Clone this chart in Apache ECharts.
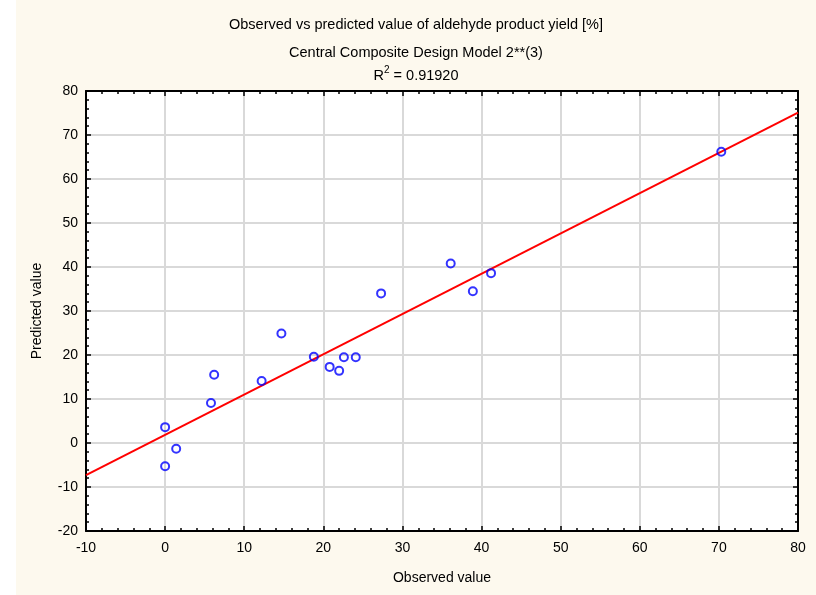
<!DOCTYPE html>
<html>
<head>
<meta charset="utf-8">
<script src="https://cdn.jsdelivr.net/npm/echarts@6/dist/echarts.min.js"></script>
<style>
  html, body { margin: 0; padding: 0; background: #ffffff; }
  #chart { position: absolute; left: 16px; top: 0; width: 800px; height: 595px; }
</style>
</head>
<body>
<div id="chart"></div>
<script>
// Observed vs predicted aldehyde product yield [%]
const observed  = [0, 0, 1.4, 5.8, 6.2, 12.2, 14.7, 18.8, 20.8, 22.0, 22.6, 24.1, 27.3, 36.1, 38.9, 41.2, 70.3];
const predicted = [3.6, -5.3, -1.3, 9.1, 15.5, 14.1, 24.9, 19.6, 17.3, 16.4, 19.5, 19.5, 34.0, 40.8, 34.5, 38.6, 66.2];

// Fitted line endpoints across the observed range
const fitX = [-10, 80];
const fitY = [-7.3, 75.1];

const xTicks = { min: -10, max: 80, interval: 10 };
const yTicks = { min: -20, max: 80, interval: 10 };

const titleLines = [
  'Observed vs predicted value of aldehyde product yield [%]',
  'Central Composite Design Model 2**(3)',
  '{r|R}{s|2}{r| = 0.91920}'
];

const FONT = "'Liberation Sans', Arial, sans-serif";
const TITLE_SIZE = 14.5;

const chart = echarts.init(document.getElementById('chart'), null, { renderer: 'canvas' });

function frameAxis(extra) {
  return Object.assign({
    type: 'value',
    axisLine: { show: true, onZero: false, lineStyle: { color: '#000', width: 2 } },
    axisTick: { show: true, inside: true, length: 5, lineStyle: { color: '#000', width: 1.5 } },
    minorTick: { show: true, splitNumber: 5, length: 3, lineStyle: { color: '#000', width: 1.5 } },
    splitLine: { show: false },
    minorSplitLine: { show: false },
    axisLabel: { show: false }
  }, extra);
}

const labelStyle = { color: '#000', fontSize: 14, fontFamily: FONT };

chart.setOption({
  backgroundColor: '#fdf9ee',
  animation: false,
  title: titleLines.map((t, i) => ({
    text: t,
    left: 'center',
    top: [12, 40, 60][i],
    padding: [5, 15, 5, 5],
    textStyle: {
      color: '#000', fontSize: TITLE_SIZE, fontWeight: 'normal', fontFamily: FONT,
      rich: {
        r: { color: '#000', fontSize: TITLE_SIZE, fontFamily: FONT, lineHeight: 18, verticalAlign: 'bottom' },
        s: { color: '#000', fontSize: 10, fontFamily: FONT, lineHeight: 18, verticalAlign: 'top' }
      }
    }
  })),
  grid: {
    left: 70, right: 18, top: 91, bottom: 64,
    show: true, backgroundColor: '#ffffff', borderWidth: 0
  },
  xAxis: [
    frameAxis({
      position: 'bottom',
      min: xTicks.min, max: xTicks.max, interval: xTicks.interval,
      axisLabel: Object.assign({ show: true, margin: 10 }, labelStyle),
      splitLine: { show: true, lineStyle: { color: '#d9d9d9', width: 2 } },
      name: 'Observed value',
      nameLocation: 'middle',
      nameGap: 40,
      nameTextStyle: labelStyle
    }),
    frameAxis({
      position: 'top',
      min: xTicks.min, max: xTicks.max, interval: xTicks.interval
    })
  ],
  yAxis: [
    frameAxis({
      position: 'left',
      min: yTicks.min, max: yTicks.max, interval: yTicks.interval,
      axisLabel: Object.assign({ show: true, margin: 8 }, labelStyle),
      splitLine: { show: true, lineStyle: { color: '#d9d9d9', width: 2 } },
      name: 'Predicted value',
      nameLocation: 'middle',
      nameGap: 42,
      nameTextStyle: labelStyle
    }),
    frameAxis({
      position: 'right',
      min: yTicks.min, max: yTicks.max, interval: yTicks.interval
    })
  ],
  series: [
    {
      type: 'line',
      xAxisIndex: 0, yAxisIndex: 0,
      data: fitX.map((x, i) => [x, fitY[i]]),
      showSymbol: false,
      lineStyle: { color: '#ff0000', width: 2 },
      z: 2
    },
    {
      type: 'scatter',
      xAxisIndex: 0, yAxisIndex: 0,
      data: observed.map((x, i) => [x, predicted[i]]),
      symbol: 'circle',
      symbolSize: 8,
      itemStyle: { color: 'rgba(0,0,0,0)', borderColor: '#0000ff', borderWidth: 2 },
      z: 3
    }
  ]
});
</script>
</body>
</html>
